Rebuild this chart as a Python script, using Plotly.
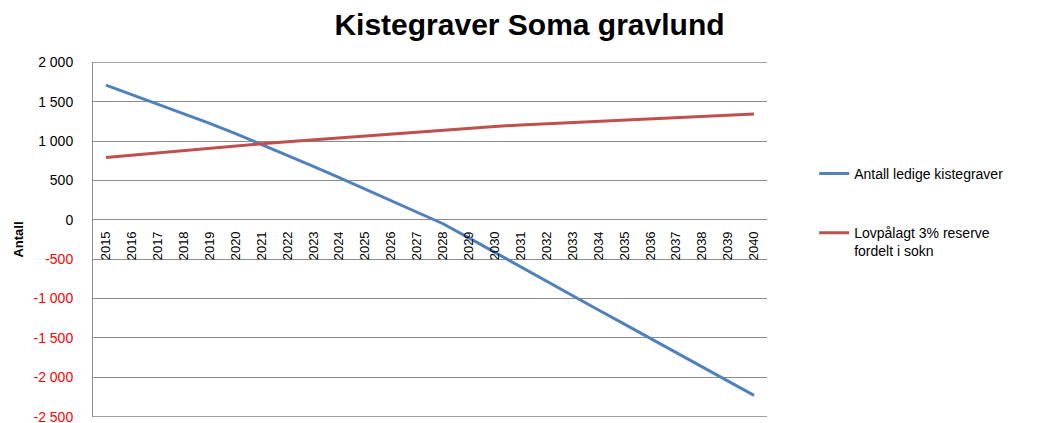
import plotly.graph_objects as go

# Data
years = [str(y) for y in range(2015, 2041)]
ledige = [1710, 1590, 1470, 1350, 1225, 1095, 960, 820, 680, 535, 390, 245, 100,
          -50, -230, -415, -600, -785, -965, -1145, -1325, -1505, -1690, -1870,
          -2050, -2230]
reserve = [790, 820, 850, 880, 910, 940, 965, 990, 1015, 1040, 1065, 1090, 1110,
           1135, 1160, 1185, 1205, 1220, 1235, 1250, 1265, 1280, 1295, 1310, 1325,
           1345]
ytick_vals = [2000, 1500, 1000, 500, 0, -500, -1000, -1500, -2000, -2500]

def fmt(v):
    s = f"{abs(v):,}".replace(",", " ")
    if v < 0:
        return f"<span style='color:#ff0000'>-{s}</span>"
    return s

Y_MIN, Y_MAX = -2504, 2004
GRID = "#8c8c8c"

fig = go.Figure()
fig.add_trace(go.Scatter(x=years, y=ledige, mode="lines", name="Antall ledige kistegraver",
                         line=dict(color="#4F81BD", width=3), legendgroup="a"))
fig.add_trace(go.Scatter(x=years, y=reserve, mode="lines",
                         name="Lovpålagt 3% reserve<br>fordelt i sokn",
                         line=dict(color="#C0504D", width=3), legendgroup="b"))

# edge gridlines (plotly drops them at the plot border)
for yv in (ytick_vals[0], ytick_vals[-1]):
    fig.add_hline(y=yv, line_color=GRID, line_width=1, layer="below")

fig.update_layout(
    width=1040, height=423,
    margin=dict(l=93, r=273, t=62, b=6),
    paper_bgcolor="white", plot_bgcolor="white",
    font=dict(family="Liberation Sans, Arial, sans-serif", color="black"),
    title=dict(text="<b>Kistegraver Soma gravlund</b>", x=529.5 / 1040, xanchor="center",
               y=1 - 24 / 423, yanchor="middle", font=dict(size=30)),
    legend=dict(x=1.07, y=0.73, xanchor="left", yanchor="top", valign="top",
                tracegroupgap=38, font=dict(size=14)),
)
fig.update_xaxes(type="category", range=[-0.5, len(years) - 0.5],
                 anchor="free", position=(0 - Y_MIN) / (Y_MAX - Y_MIN),
                 tickangle=-90, tickfont=dict(size=13), showgrid=False,
                 showline=False, ticks="", ticklabelstandoff=8, automargin=False)
fig.update_yaxes(range=[Y_MIN, Y_MAX], tickvals=ytick_vals,
                 ticktext=[fmt(v) for v in ytick_vals], tickfont=dict(size=14),
                 showgrid=True, gridcolor=GRID, gridwidth=1,
                 zeroline=True, zerolinecolor=GRID, zerolinewidth=1,
                 showline=True, linecolor=GRID, ticks="", ticklabelstandoff=16,
                 ticklabeloverflow="allow", automargin=False,
                 title=dict(text="<b>Antall</b>", font=dict(size=13), standoff=6))

fig.write_html("out.html", config={"displayModeBar": False},
               post_script="document.body.style.margin='0';")
